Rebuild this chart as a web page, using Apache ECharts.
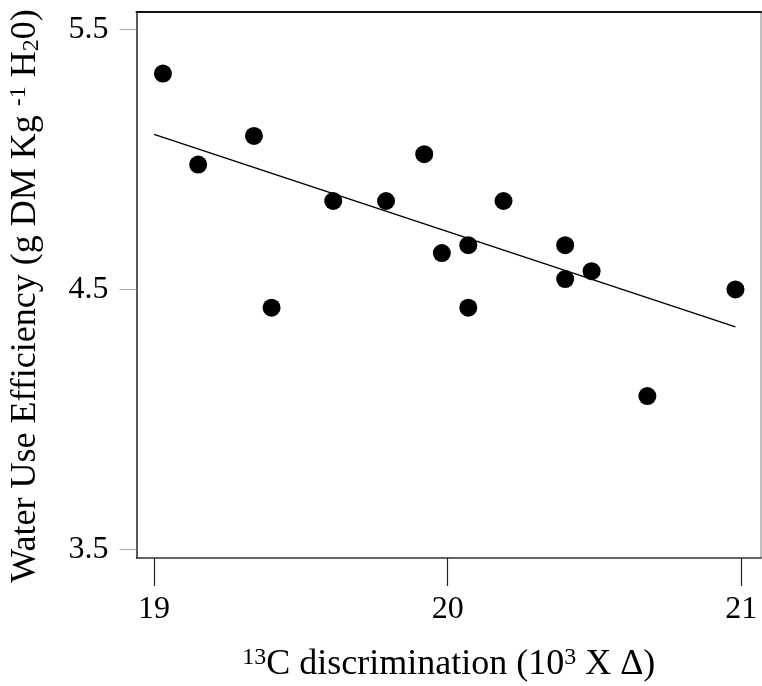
<!DOCTYPE html>
<html>
<head>
<meta charset="utf-8">
<script src="https://cdn.jsdelivr.net/npm/echarts@6/dist/echarts.min.js"></script>
<style>html,body{margin:0;padding:0;background:#fff;}#c{width:762px;height:686px;}</style>
</head>
<body>
<div id="c"></div>
<script>
// Data
var discrimination = [19.03, 19.15, 19.34, 19.40, 19.61, 19.79, 19.92, 20.19, 19.98, 20.07, 20.07, 20.40, 20.40, 20.49, 20.98, 20.68];
var wue = [5.33, 4.98, 5.09, 4.43, 4.84, 4.84, 5.02, 4.84, 4.64, 4.67, 4.43, 4.67, 4.54, 4.57, 4.50, 4.09];
var fitX = [19.0, 20.98];
var fitY = [5.096, 4.356];
var xTicks = [19, 20, 21];
var yTicks = [3.5, 4.5, 5.5];

var points = discrimination.map(function (x, i) { return [x, wue[i]]; });
var fitLine = fitX.map(function (x, i) { return [x, fitY[i]]; });

var font = "'Liberation Serif', 'Times New Roman', serif";
var chart = echarts.init(document.getElementById('c'));
chart.setOption({
  animation: false,
  backgroundColor: '#fff',
  grid: { left: 136.5, right: 1, top: 12, bottom: 128, containLabel: false, outerBoundsMode: 'none' },
  xAxis: [{
    type: 'value', min: 18.94, max: 21.067, position: 'bottom',
    axisLine: { show: true, lineStyle: { color: '#333', width: 1.5 } },
    axisTick: { show: true, customValues: xTicks, length: 28, lineStyle: { color: '#222', width: 1.2 } },
    axisLabel: { customValues: xTicks, margin: 36, fontFamily: font, fontSize: 32, color: '#000' },
    splitLine: { show: false },
    name: '{sup|13}{n|C discrimination (10}{sup|3}{n| X Δ)}',
    nameLocation: 'middle', nameGap: 88,
    nameTextStyle: {
      fontFamily: font, fontSize: 36, color: '#000',
      rich: {
        n: { fontFamily: font, fontSize: 36, color: '#000' },
        sup: { fontFamily: font, fontSize: 24, color: '#000', padding: [0, 0, 14, 0] }
      }
    }
  }, {
    type: 'value', min: 18.94, max: 21.067, position: 'top',
    axisLine: { show: true, lineStyle: { color: '#111', width: 2 } },
    axisTick: { show: false }, axisLabel: { show: false }, splitLine: { show: false }
  }],
  yAxis: [{
    type: 'value', min: 3.4677, max: 5.5665, position: 'left',
    axisLine: { show: true, lineStyle: { color: '#222', width: 1.5 } },
    axisTick: { show: true, customValues: yTicks, length: 17, lineStyle: { color: '#aaa', width: 1 } },
    axisLabel: { customValues: yTicks, margin: 28, fontFamily: font, fontSize: 32, color: '#000',
      formatter: function (v) { return v.toFixed(1); } },
    splitLine: { show: false },
    name: '{n|Water Use Efficiency (g DM Kg }{sup|-1}{n| H}{sub|2}{n|0)}',
    nameLocation: 'middle', nameGap: 92,
    nameTextStyle: {
      fontFamily: font, fontSize: 36, color: '#000', padding: [0, 22, 0, 0],
      rich: {
        n: { fontFamily: font, fontSize: 36, color: '#000' },
        sup: { fontFamily: font, fontSize: 24, color: '#000', padding: [0, 0, 14, 0] },
        sub: { fontFamily: font, fontSize: 24, color: '#000', padding: [12, 0, 0, 0] }
      }
    }
  }, {
    type: 'value', min: 3.4677, max: 5.5665, position: 'right',
    axisLine: { show: true, lineStyle: { color: '#aaa', width: 1.5 } },
    axisTick: { show: false }, axisLabel: { show: false }, splitLine: { show: false }
  }],
  series: [{
    type: 'scatter', data: points, symbol: 'circle', symbolSize: 18,
    itemStyle: { color: '#000', opacity: 1 }, silent: true, z: 3
  }, {
    type: 'line', data: fitLine, symbol: 'none', silent: true,
    lineStyle: { color: '#000', width: 1.5 }, z: 2
  }]
});
</script>
</body>
</html>
